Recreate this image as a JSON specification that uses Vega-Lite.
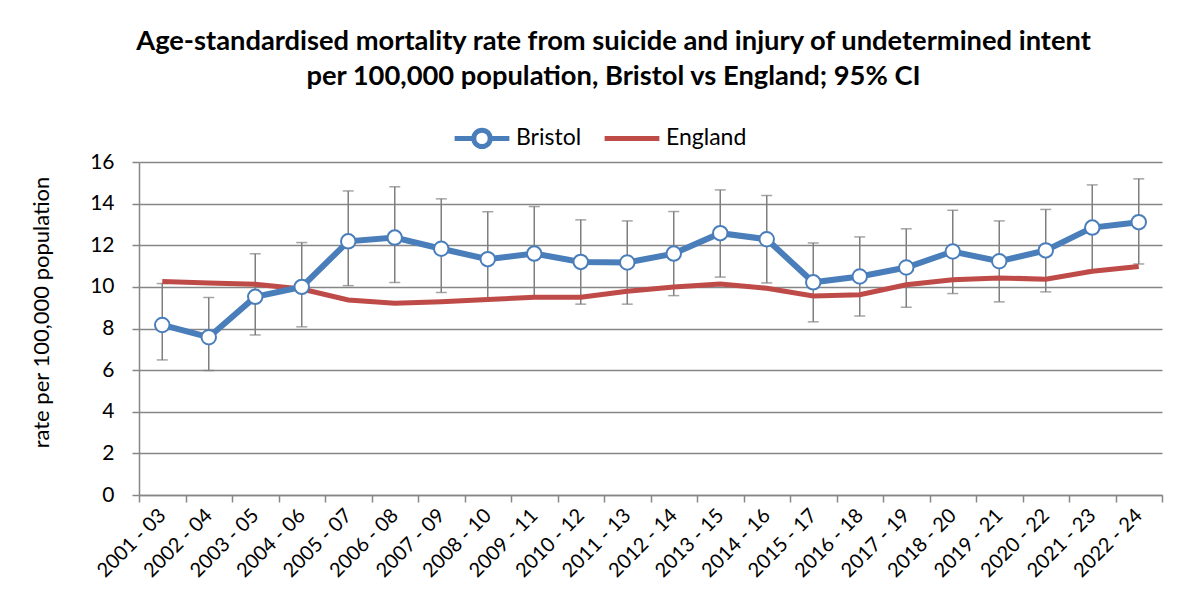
{
  "$schema": "https://vega.github.io/schema/vega-lite/v6.json",
  "autosize": "none",
  "width": 1023,
  "height": 333,
  "padding": {"left": 139, "top": 162, "right": 24, "bottom": 115},
  "background": "white",
  "title": {
    "text": [
      "Age-standardised mortality rate from suicide and injury of undetermined intent",
      "per 100,000 population, Bristol vs England; 95% CI"
    ],
    "font": "Lato",
    "fontSize": 27.3,
    "fontWeight": "bold",
    "color": "black",
    "lineHeight": 35,
    "anchor": "middle",
    "dx": -37,
    "offset": 18
  },
  "datasets": {
    "bristol": [
      {"period": "2001 - 03", "area": "Bristol", "rate": 8.17, "lo": 6.49, "hi": 10.16},
      {"period": "2002 - 04", "area": "Bristol", "rate": 7.58, "lo": 5.98, "hi": 9.49},
      {"period": "2003 - 05", "area": "Bristol", "rate": 9.52, "lo": 7.69, "hi": 11.59},
      {"period": "2004 - 06", "area": "Bristol", "rate": 10.0, "lo": 8.08, "hi": 12.13},
      {"period": "2005 - 07", "area": "Bristol", "rate": 12.19, "lo": 10.06, "hi": 14.61},
      {"period": "2006 - 08", "area": "Bristol", "rate": 12.37, "lo": 10.21, "hi": 14.81},
      {"period": "2007 - 09", "area": "Bristol", "rate": 11.83, "lo": 9.73, "hi": 14.23},
      {"period": "2008 - 10", "area": "Bristol", "rate": 11.33, "lo": 9.42, "hi": 13.61},
      {"period": "2009 - 11", "area": "Bristol", "rate": 11.6, "lo": 9.52, "hi": 13.86},
      {"period": "2010 - 12", "area": "Bristol", "rate": 11.2, "lo": 9.17, "hi": 13.22},
      {"period": "2011 - 13", "area": "Bristol", "rate": 11.17, "lo": 9.17, "hi": 13.17},
      {"period": "2012 - 14", "area": "Bristol", "rate": 11.6, "lo": 9.58, "hi": 13.62},
      {"period": "2013 - 15", "area": "Bristol", "rate": 12.58, "lo": 10.47, "hi": 14.66},
      {"period": "2014 - 16", "area": "Bristol", "rate": 12.29, "lo": 10.19, "hi": 14.39},
      {"period": "2015 - 17", "area": "Bristol", "rate": 10.22, "lo": 8.32, "hi": 12.11},
      {"period": "2016 - 18", "area": "Bristol", "rate": 10.5, "lo": 8.6, "hi": 12.4},
      {"period": "2017 - 19", "area": "Bristol", "rate": 10.93, "lo": 9.02, "hi": 12.79},
      {"period": "2018 - 20", "area": "Bristol", "rate": 11.7, "lo": 9.68, "hi": 13.68},
      {"period": "2019 - 21", "area": "Bristol", "rate": 11.23, "lo": 9.28, "hi": 13.17},
      {"period": "2020 - 22", "area": "Bristol", "rate": 11.75, "lo": 9.76, "hi": 13.72},
      {"period": "2021 - 23", "area": "Bristol", "rate": 12.85, "lo": 10.8, "hi": 14.9},
      {"period": "2022 - 24", "area": "Bristol", "rate": 13.11, "lo": 11.1, "hi": 15.19}
    ],
    "england": [
      {"period": "2001 - 03", "area": "England", "rate": 10.26},
      {"period": "2002 - 04", "area": "England", "rate": 10.19},
      {"period": "2003 - 05", "area": "England", "rate": 10.13},
      {"period": "2004 - 06", "area": "England", "rate": 9.9},
      {"period": "2005 - 07", "area": "England", "rate": 9.37},
      {"period": "2006 - 08", "area": "England", "rate": 9.21},
      {"period": "2007 - 09", "area": "England", "rate": 9.29},
      {"period": "2008 - 10", "area": "England", "rate": 9.39},
      {"period": "2009 - 11", "area": "England", "rate": 9.5},
      {"period": "2010 - 12", "area": "England", "rate": 9.5},
      {"period": "2011 - 13", "area": "England", "rate": 9.79},
      {"period": "2012 - 14", "area": "England", "rate": 9.99},
      {"period": "2013 - 15", "area": "England", "rate": 10.14},
      {"period": "2014 - 16", "area": "England", "rate": 9.93},
      {"period": "2015 - 17", "area": "England", "rate": 9.56},
      {"period": "2016 - 18", "area": "England", "rate": 9.62},
      {"period": "2017 - 19", "area": "England", "rate": 10.1},
      {"period": "2018 - 20", "area": "England", "rate": 10.34},
      {"period": "2019 - 21", "area": "England", "rate": 10.43},
      {"period": "2020 - 22", "area": "England", "rate": 10.37},
      {"period": "2021 - 23", "area": "England", "rate": 10.75},
      {"period": "2022 - 24", "area": "England", "rate": 10.98}
    ]
  },
  "encoding": {
    "x": {
      "field": "period",
      "type": "ordinal",
      "scale": {"type": "band", "paddingInner": 0, "paddingOuter": 0},
      "axis": {
        "title": null,
        "tickBand": "extent",
        "labelAngle": -45,
        "labelAlign": "right",
        "labelBaseline": "middle",
        "labelFont": "Lato",
        "labelFontSize": 20,
        "labelColor": "black",
        "labelPadding": 10,
        "tickSize": 7,
        "tickColor": "#868686",
        "domainColor": "#868686",
        "domainWidth": 1.5,
        "tickWidth": 1.5
      }
    }
  },
  "layer": [
    {
      "data": {"name": "bristol"},
      "mark": {"type": "rule", "color": "#7f7f7f", "strokeWidth": 1.5},
      "encoding": {
        "y": {"field": "lo", "type": "quantitative"},
        "y2": {"field": "hi"}
      }
    },
    {
      "data": {"name": "bristol"},
      "mark": {"type": "tick", "color": "#7f7f7f", "size": 11, "thickness": 1.5},
      "encoding": {"y": {"field": "lo", "type": "quantitative"}}
    },
    {
      "data": {"name": "bristol"},
      "mark": {"type": "tick", "color": "#7f7f7f", "size": 11, "thickness": 1.5},
      "encoding": {"y": {"field": "hi", "type": "quantitative"}}
    },
    {
      "data": {"name": "england"},
      "mark": {"type": "line", "strokeWidth": 5},
      "encoding": {
        "y": {"field": "rate", "type": "quantitative"},
        "color": {"field": "area", "type": "nominal"}
      }
    },
    {
      "data": {"name": "bristol"},
      "mark": {
        "type": "line",
        "strokeWidth": 6,
        "point": {"filled": false, "fill": "white", "size": 210, "strokeWidth": 2}
      },
      "encoding": {
        "y": {
          "field": "rate",
          "type": "quantitative",
          "scale": {"domain": [0, 16]},
          "axis": {
            "title": "rate per 100,000 population",
            "titleFont": "Lato",
            "titleFontSize": 22,
            "titleFontWeight": "normal",
            "titleColor": "black",
            "titlePadding": 36,
            "titleY": 150,
            "values": [0, 2, 4, 6, 8, 10, 12, 14, 16],
            "labelFont": "Lato",
            "labelFontSize": 21,
            "labelColor": "black",
            "labelPadding": 18,
            "tickSize": 7,
            "tickColor": "#868686",
            "tickWidth": 1.5,
            "domainColor": "#868686",
            "domainWidth": 1.5,
            "grid": true,
            "gridColor": "#868686",
            "gridWidth": 1.5
          }
        },
        "color": {
          "field": "area",
          "type": "nominal",
          "scale": {"domain": ["Bristol", "England"], "range": ["#4a7ebb", "#be4b48"]},
          "legend": {
            "title": null,
            "orient": "none",
            "direction": "horizontal",
            "legendX": 313,
            "legendY": -54,
            "labelFont": "Lato",
            "labelFontSize": 23,
            "labelColor": "black",
            "labelOffset": 4,
            "columnPadding": 12,
            "symbolSize": 3000,
            "symbolStrokeWidth": 5,
            "encode": {
              "symbols": {
                "update": {
                  "shape": {"signal": "datum.value === 'Bristol' ? 'M-1,0L-0.3,0M0.3,0L1,0M0.3,0A0.3,0.3 0 1 1 -0.3,0A0.3,0.3 0 1 1 0.3,0Z' : 'M-1,0L1,0M0,-0.3L0,-0.3M0,0.3L0,0.3'"},
                  "fill": {"value": "white"},
                  "fillOpacity": {"value": 1}
                }
              }
            }
          }
        }
      }
    }
  ],
  "config": {
    "view": {"stroke": null},
    "font": "Lato"
  }
}
